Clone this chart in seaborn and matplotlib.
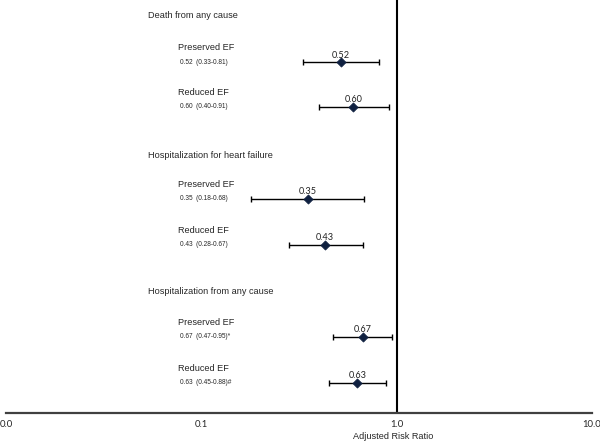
import numpy as np
import pandas as pd
import seaborn as sns
import matplotlib.pyplot as plt
import matplotlib.transforms as mtransforms

# data
groups = ["Death from any cause", "Hospitalization for heart failure", "Hospitalization from any cause"]
subgroups = ["Preserved EF", "Reduced EF"] * 3
ratio = [0.52, 0.60, 0.35, 0.43, 0.67, 0.63]
ci_low = [0.33, 0.40, 0.18, 0.28, 0.47, 0.45]
ci_high = [0.81, 0.91, 0.68, 0.67, 0.95, 0.88]
marks = ["", "", "", "", "*", "#"]
tick_vals = [0.01, 0.1, 1.0, 10.0]
tick_labels = ["0.0", "0.1", "1.0", "10.0"]

# layout (pixel rows from the top of the plot area)
header_y = [16, 155, 292]
row_y = [62, 107, 199, 245, 337, 383]

df = pd.DataFrame({"sub": subgroups, "rr": ratio, "lo": ci_low, "hi": ci_high,
                   "mark": marks, "y": row_y})

sns.set_style("white")
plt.rcParams["font.family"] = ["Liberation Sans", "DejaVu Sans"]

navy = "#0f2040"
W = 586
fig = plt.figure(figsize=(6, 4.41), dpi=100)
ax = fig.add_axes([6/600, 28/441, W/600, 413/441])
ax.set_xscale("log")
ax.set_xlim(0.01, 10)
ax.set_ylim(413, 0)

ax.errorbar(df["rr"], df["y"], xerr=[df["rr"] - df["lo"], df["hi"] - df["rr"]],
            fmt="none", ecolor="black", elinewidth=1, capsize=2, capthick=1, zorder=2)
sns.scatterplot(data=df, x="rr", y="y", marker="D", s=22, color=navy,
                edgecolor=navy, linewidth=0.5, ax=ax, zorder=3, legend=False)

for _, r in df.iterrows():
    ax.text(r["rr"], r["y"] - 7, f"{r['rr']:.2f}", ha="center", va="center",
            fontsize=6.6, family=["Lato", "DejaVu Sans"], color="#222222")

ax.axvline(1.0, color="black", lw=1.5, zorder=1)

trans = mtransforms.blended_transform_factory(ax.transAxes, ax.transData)
for g, yy in zip(groups, header_y):
    ax.text(142/W, yy, g, transform=trans, ha="left", va="center", fontsize=6.6)
for _, r in df.iterrows():
    ax.text(172/W, r["y"] - 14.5, r["sub"], transform=trans, ha="left", va="center", fontsize=6.6)
    ax.text(174/W, r["y"], f"{r['rr']:.2f}  ({r['lo']:.2f}-{r['hi']:.2f}){r['mark']}",
            transform=trans, ha="left", va="center", fontsize=4.7)

for side in ["top", "left", "right"]:
    ax.spines[side].set_visible(False)
ax.spines["bottom"].set_color("#404040")
ax.spines["bottom"].set_linewidth(1.6)

ax.set_xticks(tick_vals)
ax.set_xticklabels(tick_labels, fontsize=6.8, family=["Lato", "DejaVu Sans"])
ax.minorticks_off()
ax.tick_params(axis="x", length=0, pad=5)
ax.set_yticks([])
ax.set_xlabel("")
ax.set_ylabel("")
ax.text((393 - 6)/W, -(436.5 - 413)/413, "Adjusted Risk Ratio", transform=ax.transAxes,
        ha="center", va="center", fontsize=6.6)

fig.savefig("out.png", dpi=100)
